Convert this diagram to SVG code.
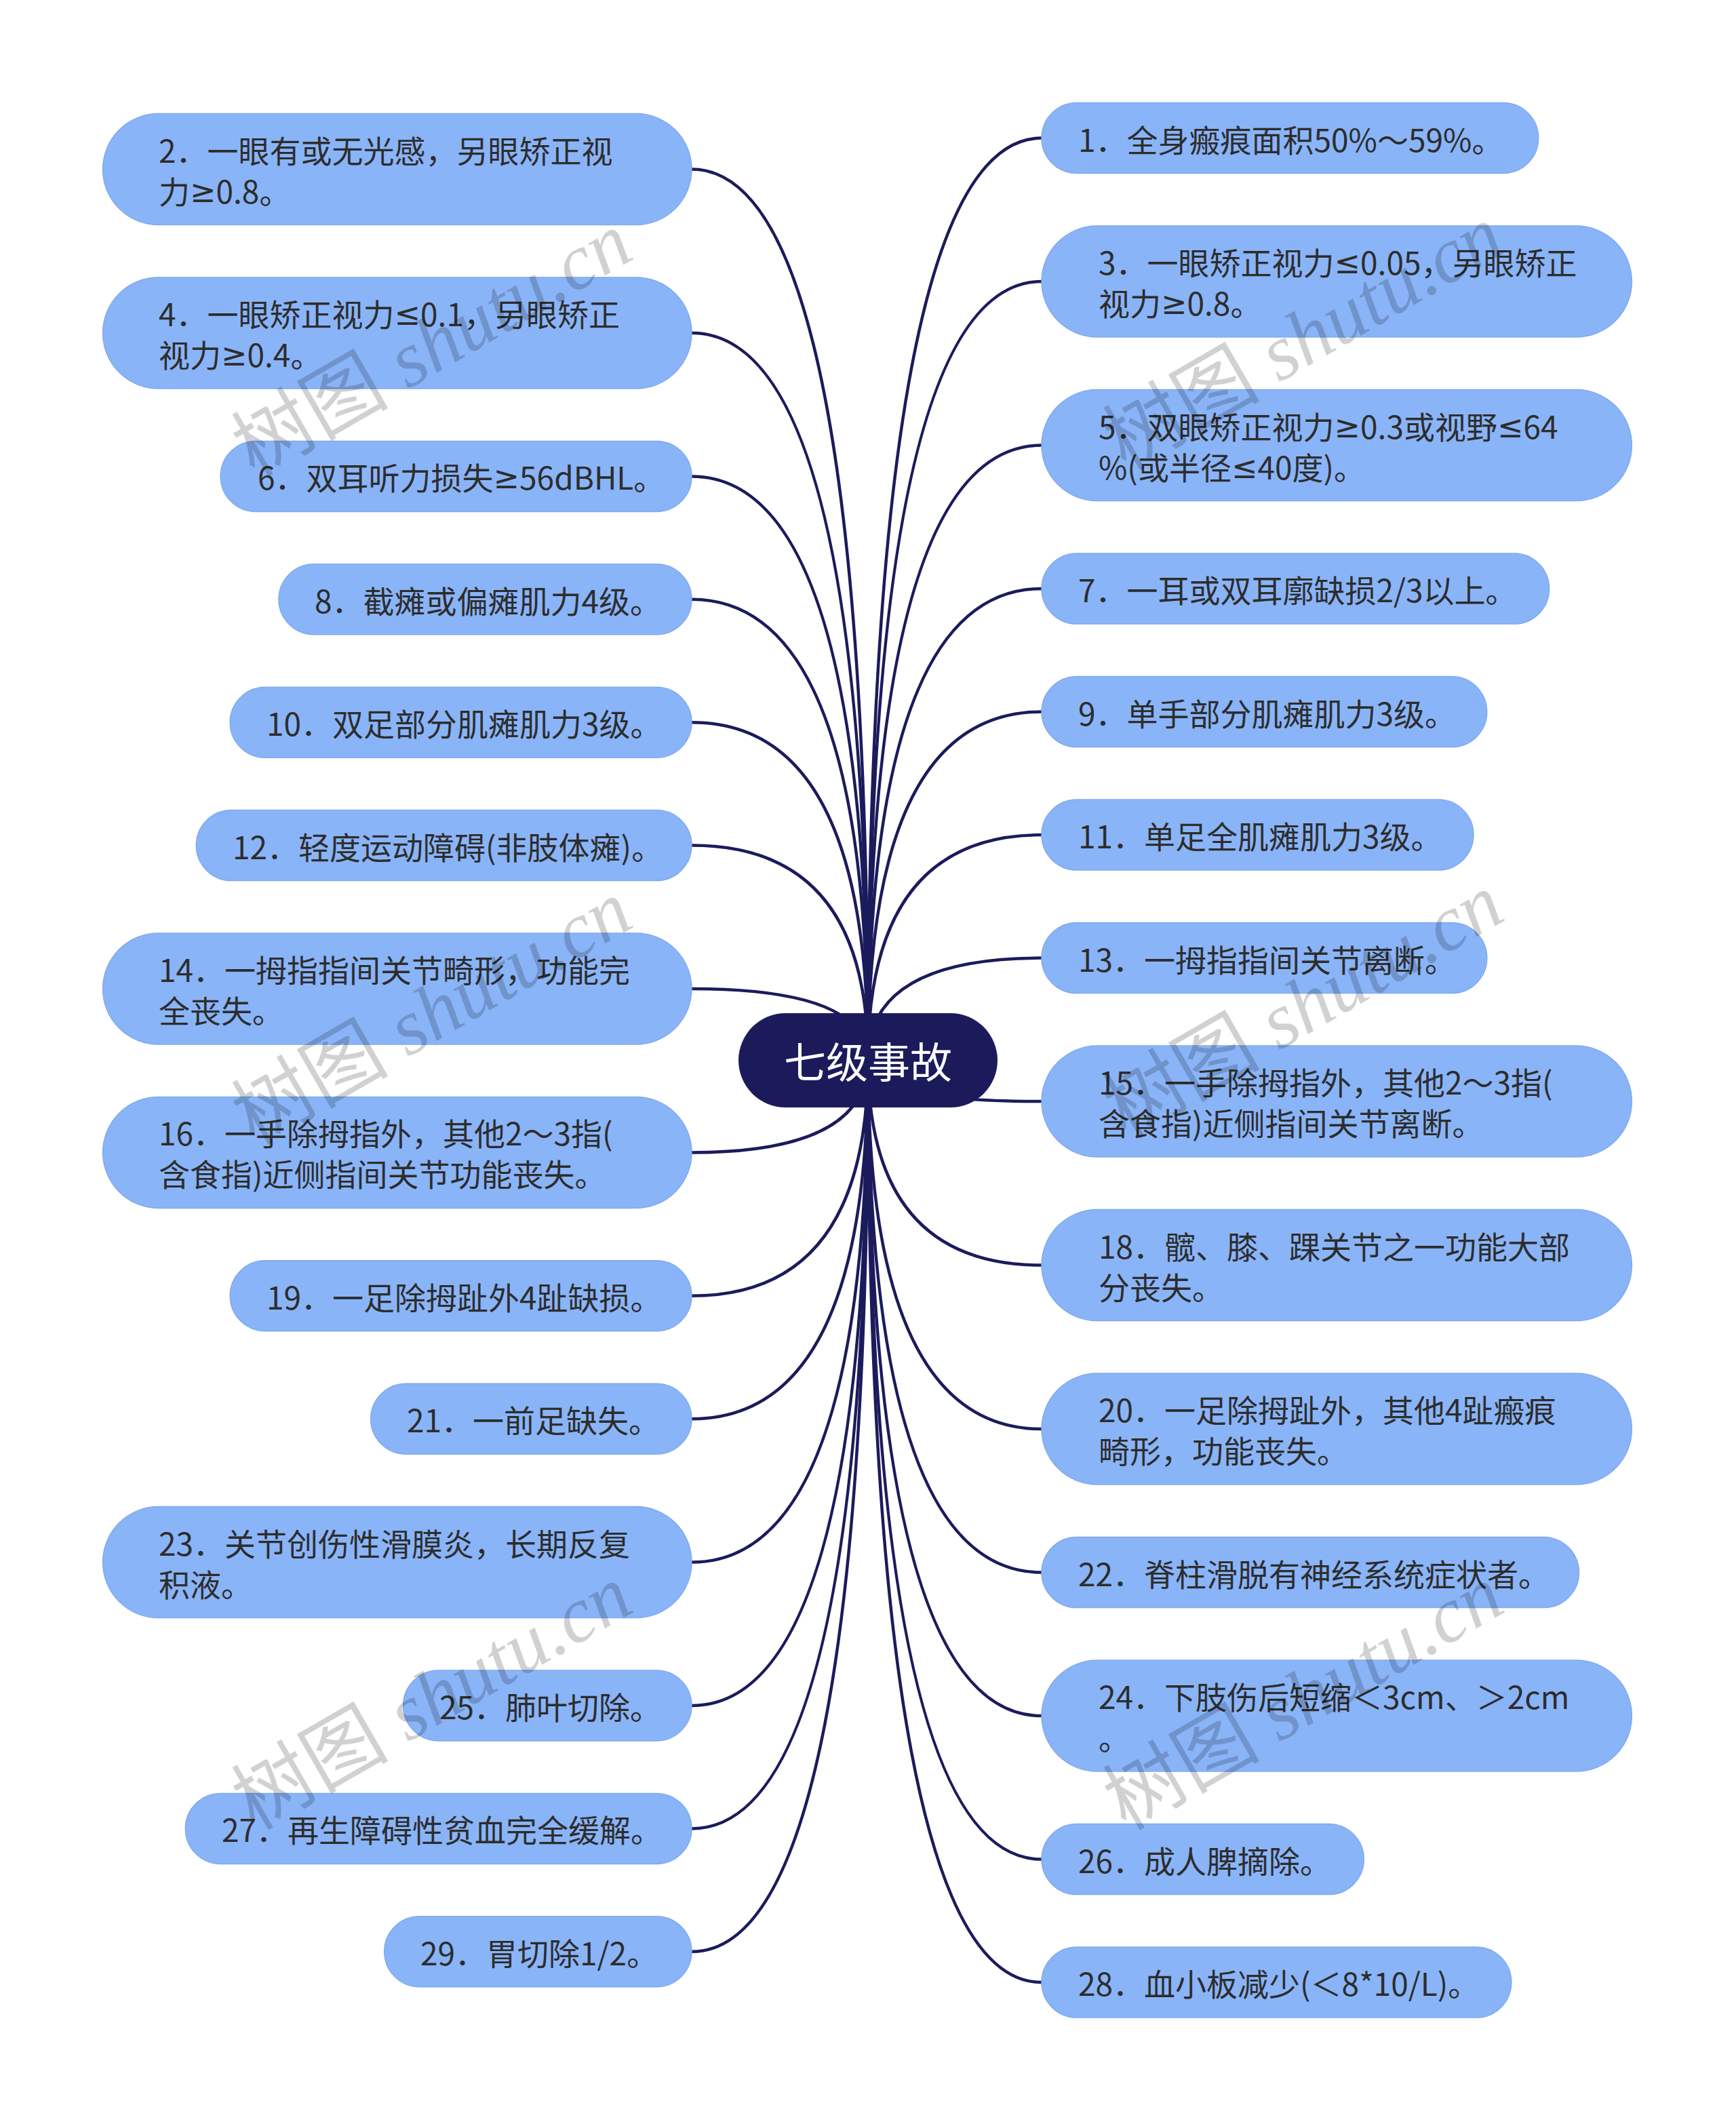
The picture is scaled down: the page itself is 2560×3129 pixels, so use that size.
<svg xmlns="http://www.w3.org/2000/svg" width="2560" height="3129" viewBox="0 0 2560 3129">
<style>
.n rect{fill:#8ab4f8;stroke:#80aaf0;stroke-width:1.5}
.n text{font-family:"Noto Sans CJK SC","Noto Sans",sans-serif;font-size:46px;fill:#2d2d2d;dominant-baseline:central}
.n .m{font-family:"Noto Sans","DejaVu Sans",sans-serif}
.c path{fill:none;stroke:#1b1b5c;stroke-width:4.5}
.root rect{fill:#1b1b5c}
.root text{font-family:"Noto Sans CJK SC","Noto Sans",sans-serif;font-size:62px;fill:#ffffff;dominant-baseline:central;text-anchor:middle}
.wm{font-size:116px;fill:#000;fill-opacity:0.18}
.wm .a{font-family:"Noto Sans CJK SC",serif}
.wm .b{font-family:"Liberation Serif",serif;font-style:italic}
</style>
<rect width="2560" height="3129" fill="#ffffff"/>
<g class="c" id="connectors">
<path d="M1280 1563 Q1280 249.6 1020 249.6"/>
<path d="M1280 1563 Q1280 491 1020 491"/>
<path d="M1280 1563 Q1280 702.4 1020 702.4"/>
<path d="M1280 1563 Q1280 883.8 1020 883.8"/>
<path d="M1280 1563 Q1280 1065.2 1020 1065.2"/>
<path d="M1280 1563 Q1280 1246.6 1020 1246.6"/>
<path d="M1280 1563 Q1280 1458 1020 1458"/>
<path d="M1280 1563 Q1280 1699.4 1020 1699.4"/>
<path d="M1280 1563 Q1280 1910.8 1020 1910.8"/>
<path d="M1280 1563 Q1280 2092.2 1020 2092.2"/>
<path d="M1280 1563 Q1280 2303.6 1020 2303.6"/>
<path d="M1280 1563 Q1280 2515 1020 2515"/>
<path d="M1280 1563 Q1280 2696.4 1020 2696.4"/>
<path d="M1280 1563 Q1280 2877.8 1020 2877.8"/>
<path d="M1280 1563 Q1280 203.6 1536 203.6"/>
<path d="M1280 1563 Q1280 415.1 1536 415.1"/>
<path d="M1280 1563 Q1280 656.6 1536 656.6"/>
<path d="M1280 1563 Q1280 868.1 1536 868.1"/>
<path d="M1280 1563 Q1280 1049.6 1536 1049.6"/>
<path d="M1280 1563 Q1280 1231.1 1536 1231.1"/>
<path d="M1280 1563 Q1280 1412.6 1536 1412.6"/>
<path d="M1280 1563 Q1280 1624.1 1536 1624.1"/>
<path d="M1280 1563 Q1280 1865.6 1536 1865.6"/>
<path d="M1280 1563 Q1280 2107.1 1536 2107.1"/>
<path d="M1280 1563 Q1280 2318.6 1536 2318.6"/>
<path d="M1280 1563 Q1280 2530.1 1536 2530.1"/>
<path d="M1280 1563 Q1280 2741.6 1536 2741.6"/>
<path d="M1280 1563 Q1280 2923.1 1536 2923.1"/>
</g>
<g class="root" id="root">
<rect x="1089" y="1494" width="382" height="139" rx="69.5"/>
<text x="1280" y="1563">七级事故</text>
</g>
<g class="n" id="n2"><rect x="151.6" y="167.6" width="868.4" height="164" rx="82"/><text x="234" y="219.6">2．一眼有或无光感，另眼矫正视</text><text x="234" y="279.6">力<tspan class="m">≥</tspan>0.8。</text></g>
<g class="n" id="n4"><rect x="151.6" y="409" width="868.4" height="164" rx="82"/><text x="234" y="461">4．一眼矫正视力<tspan class="m">≤</tspan>0.1，另眼矫正</text><text x="234" y="521">视力<tspan class="m">≥</tspan>0.4。</text></g>
<g class="n" id="n6"><rect x="325.2" y="650.4" width="694.8" height="104" rx="52"/><text x="380" y="702.4">6．双耳听力损失<tspan class="m">≥</tspan>56dBHL。</text></g>
<g class="n" id="n8"><rect x="411" y="831.8" width="609" height="104" rx="52"/><text x="464" y="883.8">8．截瘫或偏瘫肌力4级。</text></g>
<g class="n" id="n10"><rect x="339.2" y="1013.2" width="680.8" height="104" rx="52"/><text x="393" y="1065.2">10．双足部分肌瘫肌力3级。</text></g>
<g class="n" id="n12"><rect x="289.3" y="1194.6" width="730.7" height="104" rx="52"/><text x="343" y="1246.6">12．轻度运动障碍(非肢体瘫)。</text></g>
<g class="n" id="n14"><rect x="151.6" y="1376" width="868.4" height="164" rx="82"/><text x="234" y="1428">14．一拇指指间关节畸形，功能完</text><text x="234" y="1488">全丧失。</text></g>
<g class="n" id="n16"><rect x="151.6" y="1617.4" width="868.4" height="164" rx="82"/><text x="234" y="1669.4">16．一手除拇指外，其他2～3指(</text><text x="234" y="1729.4">含食指)近侧指间关节功能丧失。</text></g>
<g class="n" id="n19"><rect x="339.2" y="1858.8" width="680.8" height="104" rx="52"/><text x="393" y="1910.8">19．一足除拇趾外4趾缺损。</text></g>
<g class="n" id="n21"><rect x="546.7" y="2040.2" width="473.3" height="104" rx="52"/><text x="600" y="2092.2">21．一前足缺失。</text></g>
<g class="n" id="n23"><rect x="151.6" y="2221.6" width="868.4" height="164" rx="82"/><text x="234" y="2273.6">23．关节创伤性滑膜炎，长期反复</text><text x="234" y="2333.6">积液。</text></g>
<g class="n" id="n25"><rect x="594.6" y="2463" width="425.4" height="104" rx="52"/><text x="648" y="2515">25．肺叶切除。</text></g>
<g class="n" id="n27"><rect x="273.4" y="2644.4" width="746.6" height="104" rx="52"/><text x="327" y="2696.4">27．再生障碍性贫血完全缓解。</text></g>
<g class="n" id="n29"><rect x="566.7" y="2825.8" width="453.3" height="104" rx="52"/><text x="620" y="2877.8">29．胃切除1/2。</text></g>
<g class="n" id="n1"><rect x="1536" y="151.6" width="732.7" height="104" rx="52"/><text x="1590" y="203.6">1．全身瘢痕面积50%～59%。</text></g>
<g class="n" id="n3"><rect x="1536" y="333.1" width="870.4" height="164" rx="82"/><text x="1620" y="385.1">3．一眼矫正视力<tspan class="m">≤</tspan>0.05，另眼矫正</text><text x="1620" y="445.1">视力<tspan class="m">≥</tspan>0.8。</text></g>
<g class="n" id="n5"><rect x="1536" y="574.6" width="870.4" height="164" rx="82"/><text x="1620" y="626.6">5．双眼矫正视力<tspan class="m">≥</tspan>0.3或视野<tspan class="m">≤</tspan>64</text><text x="1620" y="686.6">%(或半径<tspan class="m">≤</tspan>40度)。</text></g>
<g class="n" id="n7"><rect x="1536" y="816.1" width="748.6" height="104" rx="52"/><text x="1590" y="868.1">7．一耳或双耳廓缺损2/3以上。</text></g>
<g class="n" id="n9"><rect x="1536" y="997.6" width="656.8" height="104" rx="52"/><text x="1590" y="1049.6">9．单手部分肌瘫肌力3级。</text></g>
<g class="n" id="n11"><rect x="1536" y="1179.1" width="636.9" height="104" rx="52"/><text x="1590" y="1231.1">11．单足全肌瘫肌力3级。</text></g>
<g class="n" id="n13"><rect x="1536" y="1360.6" width="656.8" height="104" rx="52"/><text x="1590" y="1412.6">13．一拇指指间关节离断。</text></g>
<g class="n" id="n15"><rect x="1536" y="1542.1" width="870.4" height="164" rx="82"/><text x="1620" y="1594.1">15．一手除拇指外，其他2～3指(</text><text x="1620" y="1654.1">含食指)近侧指间关节离断。</text></g>
<g class="n" id="n18"><rect x="1536" y="1783.6" width="870.4" height="164" rx="82"/><text x="1620" y="1835.6">18．髋、膝、踝关节之一功能大部</text><text x="1620" y="1895.6">分丧失。</text></g>
<g class="n" id="n20"><rect x="1536" y="2025.1" width="870.4" height="164" rx="82"/><text x="1620" y="2077.1">20．一足除拇趾外，其他4趾瘢痕</text><text x="1620" y="2137.1">畸形，功能丧失。</text></g>
<g class="n" id="n22"><rect x="1536" y="2266.6" width="792.5" height="104" rx="52"/><text x="1590" y="2318.6">22．脊柱滑脱有神经系统症状者。</text></g>
<g class="n" id="n24"><rect x="1536" y="2448.1" width="870.4" height="164" rx="82"/><text x="1620" y="2500.1">24．下肢伤后短缩＜3cm、＞2cm</text><text x="1620" y="2560.1">。</text></g>
<g class="n" id="n26"><rect x="1536" y="2689.6" width="475.3" height="104" rx="52"/><text x="1590" y="2741.6">26．成人脾摘除。</text></g>
<g class="n" id="n28"><rect x="1536" y="2871.1" width="692.8" height="104" rx="52"/><text x="1590" y="2923.1">28．血小板减少(＜8*10/L)。</text></g>
<g id="watermarks">
<text class="wm" transform="translate(375 705) rotate(-30)"><tspan class="a">树图</tspan><tspan class="b"> shutu.cn</tspan></text>
<text class="wm" transform="translate(1660 695) rotate(-30)"><tspan class="a">树图</tspan><tspan class="b"> shutu.cn</tspan></text>
<text class="wm" transform="translate(375 1690) rotate(-30)"><tspan class="a">树图</tspan><tspan class="b"> shutu.cn</tspan></text>
<text class="wm" transform="translate(1660 1680) rotate(-30)"><tspan class="a">树图</tspan><tspan class="b"> shutu.cn</tspan></text>
<text class="wm" transform="translate(375 2700) rotate(-30)"><tspan class="a">树图</tspan><tspan class="b"> shutu.cn</tspan></text>
<text class="wm" transform="translate(1660 2700) rotate(-30)"><tspan class="a">树图</tspan><tspan class="b"> shutu.cn</tspan></text>
</g>
</svg>
